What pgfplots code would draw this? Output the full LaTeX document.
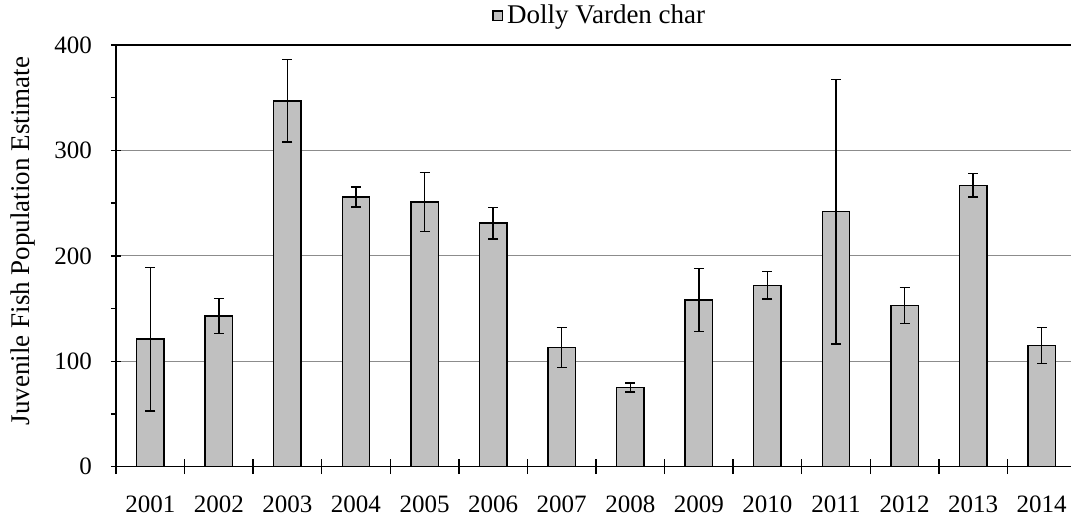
\documentclass[border=0pt]{standalone}
\usepackage{fontspec}
\setmainfont{Liberation Serif}
\usepackage{pgfplots}
\pgfplotsset{compat=1.18}
\usepackage{pgfplotstable}
\pgfplotstableread{
x  year  val  err
0  2001  121  68
1  2002  143  16.5
2  2003  347  39
3  2004  256  9.5
4  2005  251  28
5  2006  231  15
6  2007  113  19
7  2008  75   4.3
8  2009  158  30
9  2010  172  13
10 2011  242  125.5
11 2012  153  17
12 2013  267  11
13 2014  115  17
}\datatable
\definecolor{barfill}{RGB}{192,192,192}
\definecolor{gridgray}{RGB}{140,140,140}
\begin{document}
\begin{tikzpicture}
\begin{axis}[
  at={(0,0)}, anchor=south west,
  scale only axis,
  width=480pt, height=210.85pt,
  xmin=-0.5, xmax=13.5,
  ymin=0, ymax=400,
  ybar, bar width=0.4,
  xtick={0,...,13},
  xticklabels={2001,2002,2003,2004,2005,2006,2007,2008,2009,2010,2011,2012,2013,2014},
  every major x tick/.append style={draw=none},
  extra x ticks={-0.5,0.5,...,13.5},
  extra x tick labels={},
  extra x tick style={grid=none, major tick length=7.5pt, tick align=center, every major x tick/.append style={draw=black}},
  ytick={0,100,200,300,400},
  minor ytick={50,150,250,350},
  minor tick length=2.5pt,
  major tick length=5pt,
  ytick align=center,
  minor y tick style={/pgfplots/tick align=outside},
  tick pos=left,
  ymajorgrids,
  major grid style={gridgray, line width=0.6pt},
  axis line style={black, line width=0.75pt},
  tick style={black, line width=0.7pt},
  /pgf/number format/assume math mode=true,
  tick label style={font=\fontsize{12.5}{14}\selectfont},
  xticklabel style={yshift=-6pt},
  yticklabel style={xshift=-6pt},
  ylabel={Juvenile Fish Population Estimate},
  ylabel style={at={(axis description cs:-0.097,0.535)}, anchor=center, font=\fontsize{13.5}{16}\selectfont},
  legend style={at={(0.505,1)}, anchor=south, yshift=6pt, draw=none, fill=none,
     font=\fontsize{13.5}{16}\selectfont, inner sep=1pt,
     legend cell align=left},
  legend image code/.code={\draw[#1, line width=0.6pt] (0pt,-2.4pt) rectangle (4.8pt,2.4pt);},
]
\addplot[fill=barfill, draw=black, line width=0.7pt,
  error bars/.cd, y dir=both, y explicit,
  error bar style={black, line width=0.7pt},
  error mark options={rotate=90, mark size=2.5pt, black, line width=0.7pt}]
  table[x=x, y=val, y error=err] {\datatable};
\addlegendentry{Dolly Varden char}
\end{axis}
\pgfresetboundingbox
\useasboundingbox (-58pt,-24.65pt) rectangle (477.5pt,233.35pt);
\end{tikzpicture}
\end{document}
